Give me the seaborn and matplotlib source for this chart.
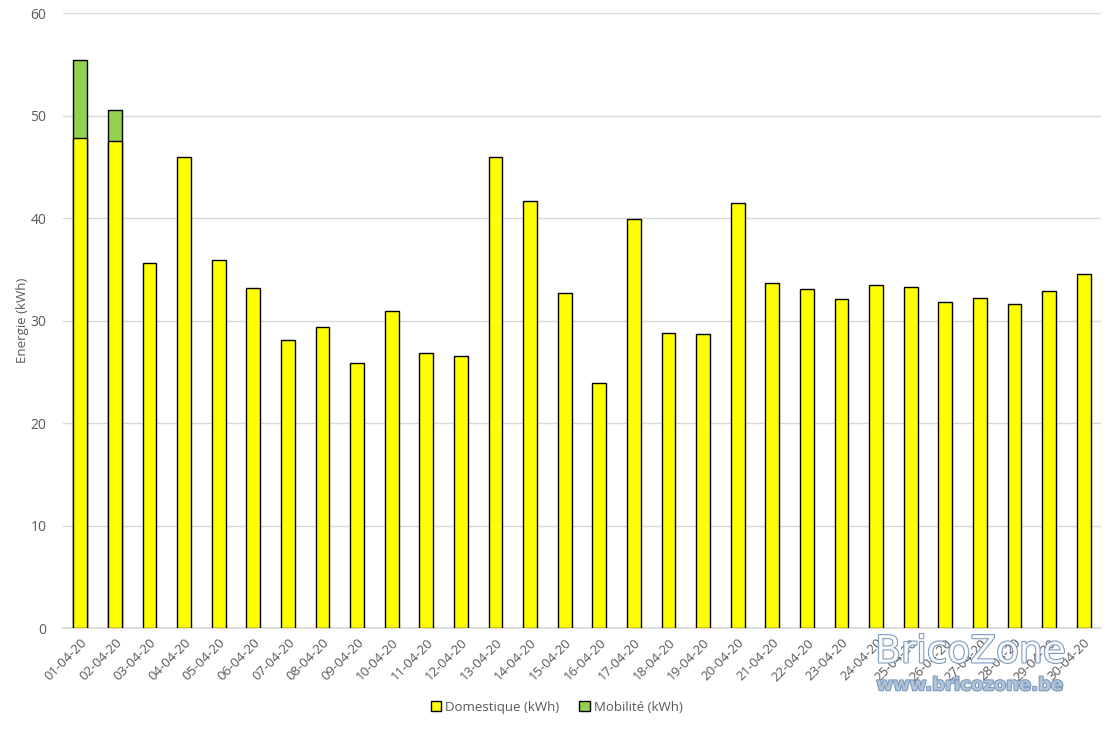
import matplotlib
matplotlib.use("Agg")
import matplotlib.pyplot as plt
import matplotlib.patheffects as pe
import seaborn as sns
import pandas as pd

# daily energy, April 2020
days = [f"{d:02d}-04-20" for d in range(1, 31)]
domestique = [47.8, 47.5, 35.6, 46.0, 35.9, 33.2, 28.1, 29.4, 25.9, 30.9,
              26.8, 26.5, 46.0, 41.7, 32.7, 23.9, 39.9, 28.8, 28.7, 41.5,
              33.7, 33.1, 32.1, 33.5, 33.3, 31.8, 32.2, 31.6, 32.9, 34.5]
mobilite = [7.6, 3.0] + [0.0] * 28

df = pd.DataFrame({"jour": days, "dom": domestique, "mob": mobilite})
df["total"] = df["dom"] + df["mob"]

sns.set_theme(style="white")
plt.rcParams["font.family"] = ["Open Sans", "DejaVu Sans"]
grey = "#595959"

fig = plt.figure(figsize=(11.13, 7.29), dpi=100)
ax = fig.add_axes([0.0566, 0.1385, 0.9326, 0.8435])

# stacked: total (green) behind, domestic (yellow) in front
sns.barplot(data=df[df["mob"] > 0], x="jour", y="total", order=days, color="#92d050",
            edgecolor="black", linewidth=1, width=0.4, ax=ax, label="Mobilité (kWh)",
            saturation=1, zorder=2)
sns.barplot(data=df, x="jour", y="dom", order=days, color="#ffff00",
            edgecolor="black", linewidth=1, width=0.4, ax=ax, label="Domestique (kWh)",
            saturation=1, zorder=3)
h, l = ax.get_legend_handles_labels()
if ax.get_legend() is not None:
    ax.get_legend().remove()

ax.set_xlim(-0.5, len(days) - 0.5)
ax.set_ylim(0, 60)
ax.set_yticks(range(0, 61, 10))
ax.yaxis.grid(True, color="#d9d9d9", linewidth=1)
ax.set_axisbelow(True)
for s in ["top", "right", "left"]:
    ax.spines[s].set_visible(False)
ax.spines["bottom"].set_color("#d9d9d9")
ax.spines["bottom"].set_zorder(1)

ax.set_xlabel("")
ax.set_ylabel("Energie (kWh)", color=grey, fontsize=9.5, labelpad=1)
ax.tick_params(axis="y", colors=grey, labelsize=10, length=0, pad=12)
ax.set_xticks(range(len(days)))
ax.set_xticklabels(days, rotation=45, ha="right", rotation_mode="anchor",
                   color=grey, fontsize=9.5)
ax.tick_params(axis="x", length=0, pad=6)
# category boundary ticks
ax.set_xticks([i - 0.5 for i in range(len(days) + 1)], minor=True)
ax.tick_params(axis="x", which="minor", length=5, color="#d9d9d9", width=1)

order = [l.index("Domestique (kWh)"), l.index("Mobilité (kWh)")]
leg = fig.legend([h[i] for i in order], [l[i] for i in order], loc="center",
                 bbox_to_anchor=(0.5, 0.03), ncol=2, frameon=False, fontsize=9.5,
                 handlelength=0.8, handleheight=0.8, columnspacing=1.5, handletextpad=0.3)
for t in leg.get_texts():
    t.set_color(grey)

# watermark
fig.text(0.872, 0.105, "BricoZone", fontsize=27, color="white", ha="center", va="center",
         path_effects=[pe.withStroke(linewidth=1.5, foreground="#6d8fb3")],
         alpha=0.9, family="DejaVu Sans", zorder=10)
fig.text(0.871, 0.06, "www.bricozone.be", fontsize=13, color="#b4c8dc", ha="center",
         va="center", path_effects=[pe.withStroke(linewidth=1.5, foreground="#6d8fb3")],
         alpha=0.9, family="DejaVu Sans", fontweight="bold", zorder=10)

fig.savefig("out.png", dpi=100)
